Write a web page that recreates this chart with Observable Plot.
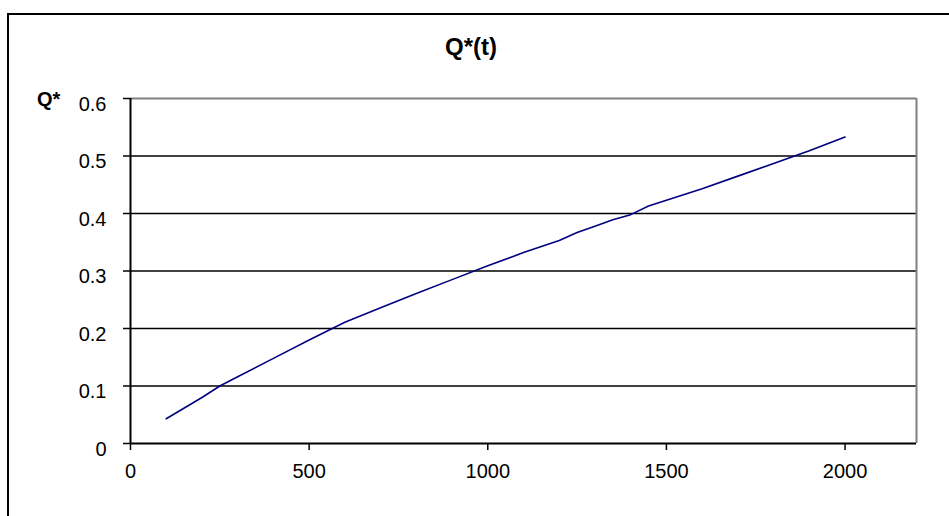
<!DOCTYPE html>
<html>
<head>
<meta charset="utf-8">
<script src="https://cdn.jsdelivr.net/npm/d3@7"></script>
<script src="https://cdn.jsdelivr.net/npm/@observablehq/plot@0.6"></script>
<style>
  html, body { margin: 0; padding: 0; background: #fff; overflow: hidden; }
  #wrap { position: relative; width: 949px; height: 516px; overflow: hidden; font-family: "Liberation Sans", Arial, sans-serif; }
  #frame { position: absolute; left: 7px; top: 13px; width: 1000px; height: 600px; border: 2px solid #000; box-sizing: border-box; }
  #title { position: absolute; left: 0; width: 942px; top: 35px; text-align: center; font-weight: bold; font-size: 24px; line-height: 24px; }
  #ylab { position: absolute; left: 37px; top: 89px; font-weight: bold; font-size: 20px; line-height: 20px; }
  svg { position: absolute; left: 0; top: 0; }
</style>
</head>
<body>
<div id="wrap">
  <div id="frame"></div>
  <div id="title">Q*(t)</div>
  <div id="ylab">Q*</div>
</div>
<script>
const tValues = [100, 200, 250, 300, 400, 500, 600, 700, 800, 900, 1000, 1100, 1200, 1250, 1300, 1350, 1400, 1450, 1500, 1600, 1700, 1800, 1900, 2000];
const qValues = [0.043, 0.080, 0.100, 0.116, 0.148, 0.180, 0.211, 0.236, 0.261, 0.285, 0.309, 0.332, 0.353, 0.367, 0.378, 0.389, 0.398, 0.413, 0.423, 0.443, 0.465, 0.487, 0.509, 0.533];
const xTicks = [0, 500, 1000, 1500, 2000];
const yTicks = [0, 0.1, 0.2, 0.3, 0.4, 0.5, 0.6];
const gridValues = [0.1, 0.2, 0.3, 0.4, 0.5];

const data = tValues.map((t, i) => ({t, q: qValues[i]}));

const chart = Plot.plot({
  width: 949,
  height: 516,
  marginLeft: 130,
  marginTop: 98,
  marginRight: 33,
  marginBottom: 73,
  style: {fontFamily: "'Liberation Sans', Arial, sans-serif", fontSize: "20px", background: "transparent", color: "#000"},
  x: {domain: [0, 2200]},
  y: {domain: [0, 0.6]},
  marks: [
    Plot.ruleY(gridValues, {stroke: "#000", strokeWidth: 1.3}),
    Plot.ruleY([0.6], {stroke: "#808080", strokeWidth: 2}),
    Plot.ruleX([2200], {stroke: "#808080", strokeWidth: 2}),
    Plot.line(data, {x: "t", y: "q", stroke: "#000080", strokeWidth: 1.6}),
    Plot.ruleX([0], {stroke: "#000", strokeWidth: 2}),
    Plot.ruleY([0], {stroke: "#000", strokeWidth: 2}),
    Plot.axisY({ticks: yTicks, tickSize: 7, tickFormat: () => "", label: null, strokeWidth: 1.5}),
    Plot.text(yTicks, {x: 0, y: d => d, text: d => String(d), dx: -24, dy: 6, textAnchor: "end", fontSize: 20, fill: "#000"}),
    Plot.axisX({ticks: xTicks, tickSize: 7, tickPadding: 13, tickFormat: d => String(d), fontSize: 20, label: null, strokeWidth: 1.5})
  ]
});
document.getElementById("wrap").appendChild(chart);
</script>
</body>
</html>
